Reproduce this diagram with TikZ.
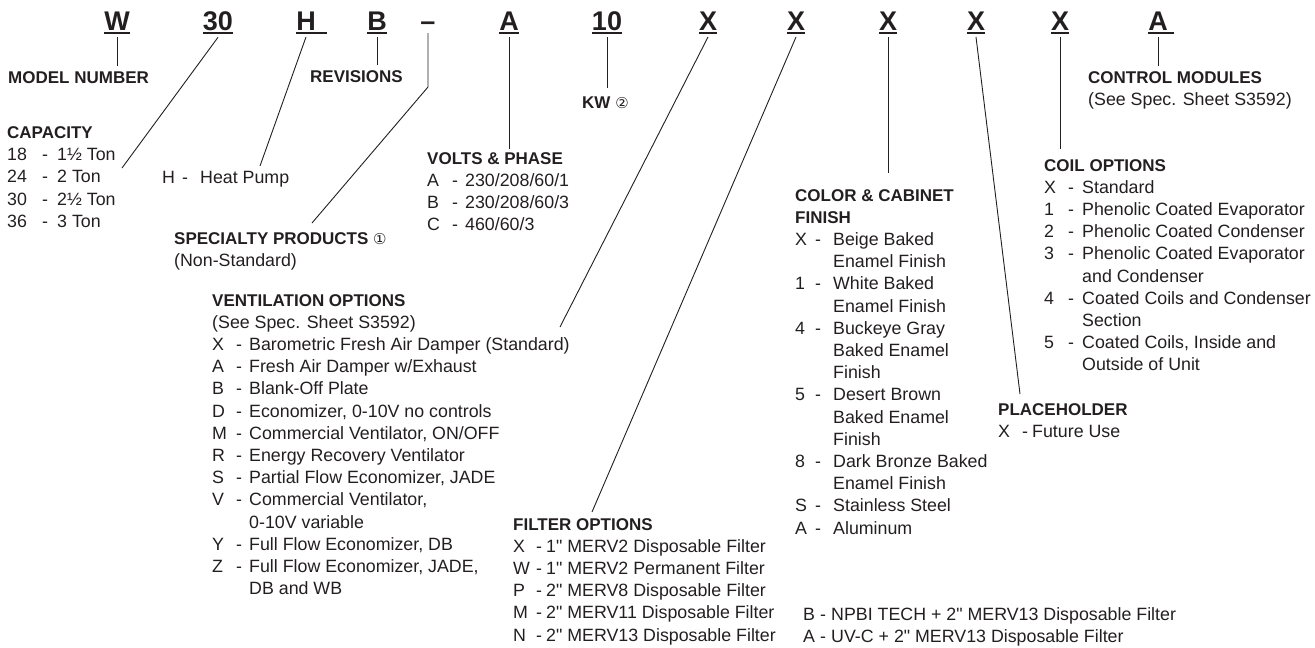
\documentclass[tikz,border=0pt]{standalone}
\usepackage{fontspec}
\newfontfamily\bodyfont{Liberation Sans}
\newfontfamily\symfont{DejaVu Sans}
\definecolor{ink}{RGB}{35,31,32}
\newcommand{\hd}{\bodyfont\fontsize{17}{22.2}\selectfont\bfseries}
\newcommand{\circnum}[1]{{\symfont\mdseries\fontsize{15}{15}\selectfont #1}}
\tikzset{
  codeltr/.style={font=\bodyfont\fontsize{27}{27}\selectfont\bfseries, text=ink,
    inner sep=0pt, outer ysep=7pt, anchor=base},
  uline/.style={draw=ink, line width=1.6pt},
  leader/.style={draw=ink, line width=0.9pt},
  txt/.style={font=\bodyfont\fontsize{17.8}{22.2}\selectfont, text=ink,
    inner sep=0pt, anchor=base west},
  heading/.style={txt, font=\hd},
}

\begin{document}
\begin{tikzpicture}[x=1pt, y=-1pt]
    \useasboundingbox (0,0) rectangle (1315,648);
    % model number letters
    \node[codeltr] (cW) at (117,30) {W};
    \node[codeltr] (c30) at (218,30) {30};
    \node[codeltr] (cH) at (306,30) {H};
    \node[codeltr] (cB) at (377,30) {B};
    \node[codeltr] (cdash) at (428,30) {–};
    \node[codeltr] (cA) at (509,30) {A};
    \node[codeltr] (c10) at (607,30) {10};
    \node[codeltr] (cXa) at (708,30) {X};
    \node[codeltr] (cXb) at (796,30) {X};
    \node[codeltr] (cXc) at (888,30) {X};
    \node[codeltr] (cXd) at (976,30) {X};
    \node[codeltr] (cXe) at (1060,30) {X};
    \node[codeltr] (cAb) at (1158,30) {A};
    \foreach \n in {cW,c30,cB,cA,c10,cXa,cXb,cXc,cXd,cXe}
        \draw[uline] ([yshift=-3pt]\n.base west) -- ([yshift=-3pt]\n.base east);
    \draw[uline] ([yshift=-3pt]cH.base west) -- ([xshift=11pt,yshift=-3pt]cH.base east);
    \draw[uline] ([yshift=-3pt]cAb.base west) -- ([xshift=6pt,yshift=-3pt]cAb.base east);

    % labels
    \node[heading] (mnum) at (8,83) {MODEL NUMBER};
    \node[heading] (rev) at (310,82) {REVISIONS};
    \node[heading] (kw) at (582,108) {KW \circnum{②}};
    \node[txt] (ctrl) at (1088,83) {\begin{tabular}[t]{@{}l@{}}
        {\hd CONTROL MODULES}\\
        (See Spec. Sheet S3592)
    \end{tabular}};
    \node[txt] (cap) at (7,138.5) {\begin{tabular}[t]{@{}p{35pt}@{}p{15pt}@{}l@{}}
        \multicolumn{3}{@{}l@{}}{\hd CAPACITY}\\
        18 & - & 1½ Ton\\
        24 & - & 2 Ton\\
        30 & - & 2½ Ton\\
        36 & - & 3 Ton
    \end{tabular}};
    \node[txt] (heat) at (162,183) {\begin{tabular}[t]{@{}p{20pt}@{}p{18pt}@{}l@{}}
        H & - & Heat Pump
    \end{tabular}};
    \node[txt] (spec) at (174,244) {\begin{tabular}[t]{@{}l@{}}
        {\hd SPECIALTY PRODUCTS \circnum{①}}\\
        (Non-Standard)
    \end{tabular}};
    \node[txt] (vent) at (212,306) {\begin{tabular}[t]{@{}p{24pt}@{}p{13pt}@{}l@{}}
        \multicolumn{3}{@{}l@{}}{\hd VENTILATION OPTIONS}\\
        \multicolumn{3}{@{}l@{}}{(See Spec. Sheet S3592)}\\
        X & - & Barometric Fresh Air Damper (Standard)\\
        A & - & Fresh Air Damper w/Exhaust\\
        B & - & Blank-Off Plate\\
        D & - & Economizer, 0-10V no controls\\
        M & - & Commercial Ventilator, ON/OFF\\
        R & - & Energy Recovery Ventilator\\
        S & - & Partial Flow Economizer, JADE\\
        V & - & Commercial Ventilator,\\
          &   & 0-10V variable\\
        Y & - & Full Flow Economizer, DB\\
        Z & - & Full Flow Economizer, JADE,\\
          &   & DB and WB
    \end{tabular}};
    \node[txt] (volt) at (427,164) {\begin{tabular}[t]{@{}p{25pt}@{}p{13pt}@{}l@{}}
        \multicolumn{3}{@{}l@{}}{\hd VOLTS \& PHASE}\\
        A & - & 230/208/60/1\\
        B & - & 230/208/60/3\\
        C & - & 460/60/3
    \end{tabular}};
    \node[txt] (color) at (795,201) {\begin{tabular}[t]{@{}p{20pt}@{}p{18pt}@{}l@{}}
        \multicolumn{3}{@{}l@{}}{\hd COLOR \& CABINET}\\
        \multicolumn{3}{@{}l@{}}{\hd FINISH}\\
        X & - & Beige Baked\\
          &   & Enamel Finish\\
        1 & - & White Baked\\
          &   & Enamel Finish\\
        4 & - & Buckeye Gray\\
          &   & Baked Enamel\\
          &   & Finish\\
        5 & - & Desert Brown\\
          &   & Baked Enamel\\
          &   & Finish\\
        8 & - & Dark Bronze Baked\\
          &   & Enamel Finish\\
        S & - & Stainless Steel\\
        A & - & Aluminum
    \end{tabular}};
    \node[txt] (coil) at (1044,171) {\begin{tabular}[t]{@{}p{24pt}@{}p{14pt}@{}l@{}}
        \multicolumn{3}{@{}l@{}}{\hd COIL OPTIONS}\\
        X & - & Standard\\
        1 & - & Phenolic Coated Evaporator\\
        2 & - & Phenolic Coated Condenser\\
        3 & - & Phenolic Coated Evaporator\\
          &   & and Condenser\\
        4 & - & Coated Coils and Condenser\\
          &   & Section\\
        5 & - & Coated Coils, Inside and\\
          &   & Outside of Unit
    \end{tabular}};
    \node[txt] (place) at (998,415) {\begin{tabular}[t]{@{}p{24pt}@{}p{10pt}@{}l@{}}
        \multicolumn{3}{@{}l@{}}{\hd PLACEHOLDER}\\
        X & - & Future Use
    \end{tabular}};
    \node[txt] (filt) at (513,530) {\begin{tabular}[t]{@{}p{23pt}@{}p{10pt}@{}l@{}}
        \multicolumn{3}{@{}l@{}}{\hd FILTER OPTIONS}\\
        X & - & 1" MERV2 Disposable Filter\\
        W & - & 1" MERV2 Permanent Filter\\
        P & - & 2" MERV8 Disposable Filter\\
        M & - & 2" MERV11 Disposable Filter\\
        N & - & 2" MERV13 Disposable Filter
    \end{tabular}};
    \node[txt] (filtb) at (803,620) {\begin{tabular}[t]{@{}p{17pt}@{}p{11pt}@{}l@{}}
        B & - & NPBI TECH + 2" MERV13 Disposable Filter\\
        A & - & UV-C + 2" MERV13 Disposable Filter
    \end{tabular}};

    % leader ends
    \coordinate (mnumTip) at (117,66);
    \coordinate (capTip) at (122,168);
    \coordinate (heatTip) at (260,166);
    \coordinate (revTip) at (377,65);
    \coordinate (specBend) at (428,87);
    \coordinate (specTip) at (312,223);
    \coordinate (voltTip) at (509,149);
    \coordinate (kwTip) at (607,88);
    \coordinate (ventTip) at (560,327);
    \coordinate (filtTip) at (592,512);
    \coordinate (colorTip) at (888,173);
    \coordinate (placeTip) at (1020,394);
    \coordinate (coilTip) at (1060,149);
    \coordinate (ctrlTip) at (1158,66);

    \draw[leader] (cW.south) -- (mnumTip);
    \draw[leader] (c30.south) -- (capTip);
    \draw[leader] (cH.south) -- (heatTip);
    \draw[leader] (cB.south) -- (revTip);
    \draw[leader] ([yshift=-3pt]cdash.base) -- (specBend) -- (specTip);
    \draw[leader] (cA.south) -- (voltTip);
    \draw[leader] (c10.south) -- (kwTip);
    \draw[leader] (cXa.south) -- (ventTip);
    \draw[leader] (cXb.south) -- (filtTip);
    \draw[leader] (cXc.south) -- (colorTip);
    \draw[leader] (cXd.south) -- (placeTip);
    \draw[leader] (cXe.south) -- (coilTip);
    \draw[leader] (cAb.south) -- (ctrlTip);
\end{tikzpicture}
\end{document}
